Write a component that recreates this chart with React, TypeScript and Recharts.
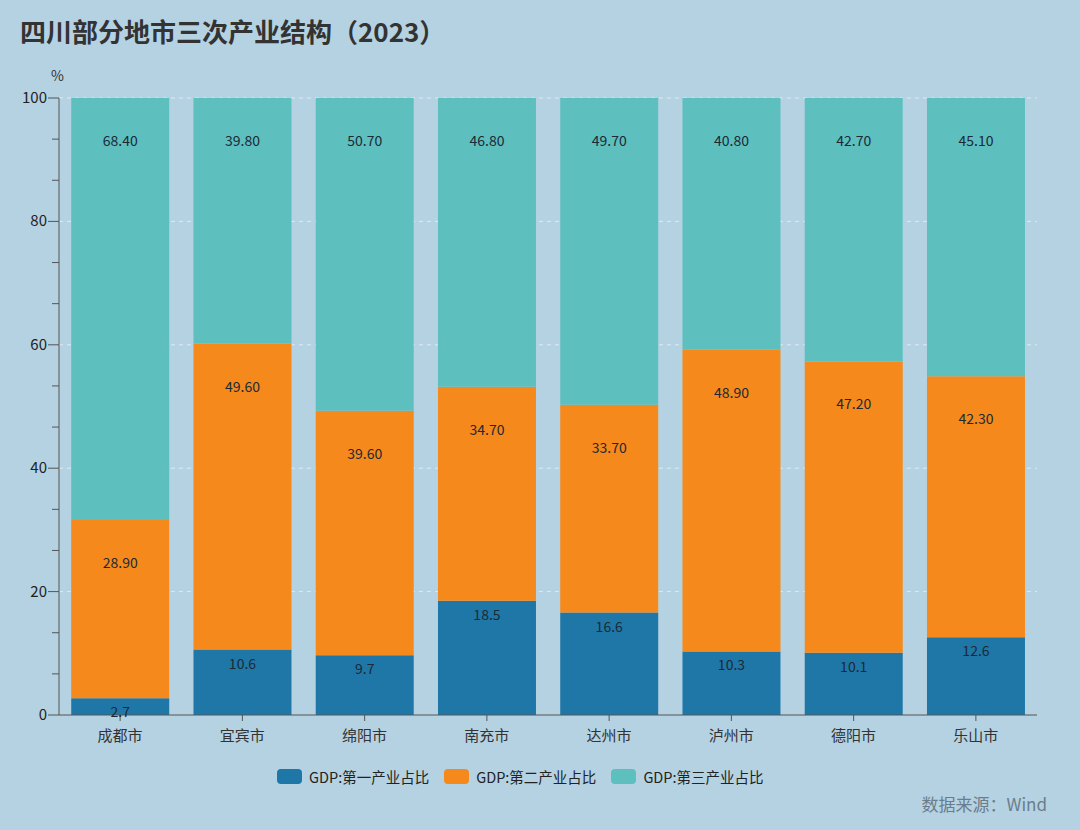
import React from 'react';
import { BarChart, Bar, XAxis, YAxis, CartesianGrid, LabelList } from 'recharts';

// 2023 四川部分地市三次产业结构（%）
const cities = ['成都市', '宜宾市', '绵阳市', '南充市', '达州市', '泸州市', '德阳市', '乐山市'];
const primary = [2.7, 10.6, 9.7, 18.5, 16.6, 10.3, 10.1, 12.6];
const secondary = [28.9, 49.6, 39.6, 34.7, 33.7, 48.9, 47.2, 42.3];
const tertiary = [68.4, 39.8, 50.7, 46.8, 49.7, 40.8, 42.7, 45.1];

const majorTicks = [0, 20, 40, 60, 80, 100];
const seriesNames = ['GDP:第一产业占比', 'GDP:第二产业占比', 'GDP:第三产业占比'];
const colors = ['#1f77a7', '#f5891b', '#5ebfbf'];

// each major step split in three minor steps
const allTicks = majorTicks.flatMap((t, i) =>
  i === 0 ? [t] : [majorTicks[i - 1] + 20 / 3, majorTicks[i - 1] + 40 / 3, t]
);

const data = cities.map((city, i) => ({
  city,
  p1: primary[i],
  p2: secondary[i],
  p3: tertiary[i],
}));

const FONT = '"Noto Sans CJK SC", "Noto Sans", sans-serif';

const YTick = (props: any) => {
  const { y, payload } = props;
  const axisX = 59;
  const isMajor = majorTicks.includes(payload.value);
  return (
    <g>
      <line x1={axisX - (isMajor ? 11 : 7)} x2={axisX} y1={y} y2={y} stroke="#555" strokeWidth={1} />
      {isMajor && (
        <text x={axisX - 12} y={y} dy={5} textAnchor="end" fontSize={15} fill="#222" fontFamily={FONT}>
          {payload.value}
        </text>
      )}
    </g>
  );
};

const labelStyle = { fontSize: 14, fill: '#1c2a36', fontFamily: FONT };

export default function App() {
  return (
    <div
      style={{
        position: 'absolute',
        left: 0,
        top: 0,
        width: 1080,
        height: 830,
        background: '#b5d2e2',
        fontFamily: FONT,
      }}
    >
      <div
        style={{
          position: 'absolute',
          left: 20,
          top: 12,
          fontSize: 26,
          fontWeight: 700,
          color: '#333',
          whiteSpace: 'nowrap',
        }}
      >
        四川部分地市三次产业结构（2023）
      </div>
      <div style={{ position: 'absolute', left: 51, top: 65, fontSize: 14, color: '#333' }}>%</div>

      <BarChart
        width={1080}
        height={830}
        data={data}
        margin={{ top: 98, right: 43, bottom: 85, left: 0 }}
        barCategoryGap="10%"
      >
        <CartesianGrid
          vertical={false}
          horizontalValues={[20, 40, 60, 80, 100]}
          stroke="rgba(255,255,255,0.55)"
          strokeDasharray="4 4"
        />
        <XAxis
          dataKey="city"
          height={30}
          axisLine={{ stroke: '#555' }}
          tickLine={{ stroke: '#555' }}
          tickSize={6}
          tick={{ fontSize: 15, fill: '#333', fontFamily: FONT }}
          tickMargin={9}
        />
        <YAxis
          width={59}
          domain={[0, 100]}
          ticks={allTicks}
          interval={0}
          axisLine={{ stroke: '#555' }}
          tickLine={false}
          tick={<YTick />}
        />
        <Bar dataKey="p1" stackId="a" fill={colors[0]} isAnimationActive={false}>
          <LabelList
            dataKey="p1"
            position="insideTop"
            offset={9}
            formatter={(v: any) => Number(v).toFixed(1)}
            style={labelStyle}
          />
        </Bar>
        <Bar dataKey="p2" stackId="a" fill={colors[1]} isAnimationActive={false}>
          <LabelList
            dataKey="p2"
            position="insideTop"
            offset={38}
            formatter={(v: any) => Number(v).toFixed(2)}
            style={labelStyle}
          />
        </Bar>
        <Bar dataKey="p3" stackId="a" fill={colors[2]} isAnimationActive={false}>
          <LabelList
            dataKey="p3"
            position="insideTop"
            offset={38}
            formatter={(v: any) => Number(v).toFixed(2)}
            style={labelStyle}
          />
        </Bar>
      </BarChart>

      <div
        style={{
          position: 'absolute',
          left: 277,
          top: 766,
          display: 'flex',
          alignItems: 'center',
          fontSize: 14.5,
          color: '#222',
        }}
      >
        {seriesNames.map((name, i) => (
          <div key={name} style={{ display: 'flex', alignItems: 'center', marginRight: 15 }}>
            <div
              style={{ width: 25, height: 15, borderRadius: 4, background: colors[i], marginRight: 7 }}
            />
            <span>{name}</span>
          </div>
        ))}
      </div>
      <div
        style={{ position: 'absolute', right: 33, top: 791, fontSize: 17, color: '#6b7d8c' }}
      >
        数据来源：Wind
      </div>
    </div>
  );
}
